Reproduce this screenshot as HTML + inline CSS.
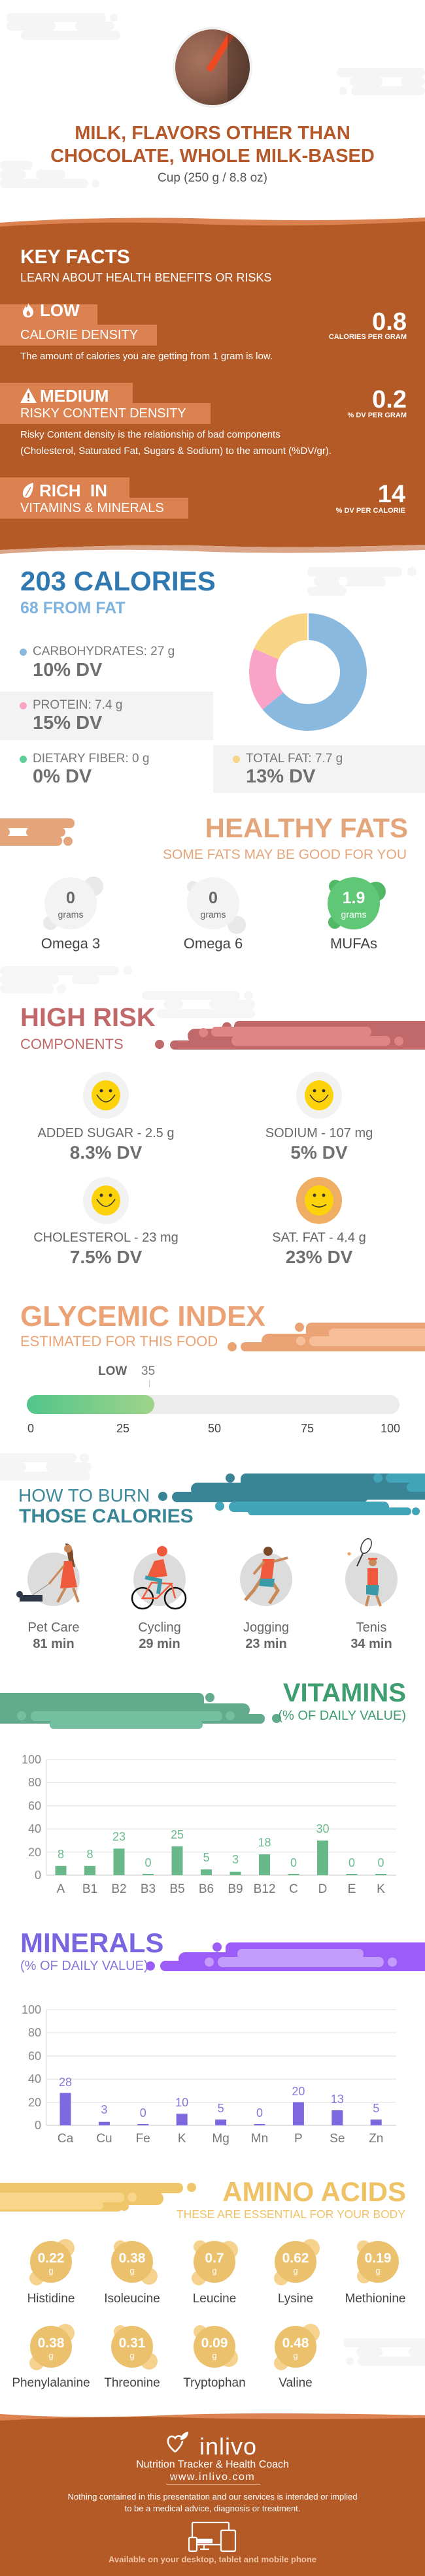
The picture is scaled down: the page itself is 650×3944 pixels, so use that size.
<!DOCTYPE html>
<html><head><meta charset="utf-8">
<style>
*{margin:0;padding:0;box-sizing:border-box}
body{width:650px;height:3944px;background:#fff;font-family:"Liberation Sans",sans-serif;overflow:hidden}
#c{position:relative;width:650px;height:3944px;overflow:hidden}
.t{position:absolute;line-height:0;white-space:nowrap}
.cen{left:0;width:650px;text-align:center}
.b{font-weight:bold}
.a{position:absolute}
svg{position:absolute}
</style></head><body><div id="c">

<!-- header background blobs -->
<svg style="left:0;top:0" width="650" height="330">
<g fill="#f5f5f5">
<rect x="10" y="20" width="152" height="14" rx="7"/><circle cx="174" cy="27" r="6"/>
<rect x="10" y="33" width="75" height="14" rx="7"/><rect x="115" y="33" width="60" height="14" rx="7"/>
<rect x="32" y="47" width="152" height="14" rx="7"/>
<rect x="515" y="104" width="135" height="14" rx="7"/><rect x="535" y="118" width="50" height="14" rx="7"/><rect x="613" y="118" width="37" height="14" rx="7"/>
<rect x="537" y="132" width="113" height="14" rx="7"/><circle cx="525" cy="139" r="6"/>
<rect x="0" y="246" width="50" height="14" rx="7"/><rect x="0" y="260" width="40" height="14" rx="7"/><rect x="55" y="260" width="45" height="14" rx="7"/>
<rect x="0" y="274" width="135" height="14" rx="7"/><circle cx="146" cy="281" r="6"/>
</g>
</svg>
<!-- food image -->
<div class="a" style="left:264px;top:41px;width:122px;height:124px;border-radius:50%;background:#f1f1f1"></div>
<div class="a" style="left:268px;top:45px;width:114px;height:116px;border-radius:50%;overflow:hidden;background:radial-gradient(circle at 35% 40%,#a7735f 0%,#8f5e4c 45%,#6a4536 75%,#4a3128 100%)">
<div class="a" style="left:70px;top:-20px;width:10px;height:90px;background:#ee4a22;transform:rotate(32deg);border-radius:4px"></div>
<div class="a" style="left:80px;top:0;width:40px;height:116px;background:rgba(70,50,40,0.5)"></div>
</div>
<div class="t cen b" style="top:204px;font-size:29px;color:#b5592b">MILK, FLAVORS OTHER THAN</div>
<div class="t cen b" style="top:239px;font-size:29px;color:#b5592b">CHOCOLATE, WHOLE MILK-BASED</div>
<div class="t cen" style="top:273px;font-size:19px;color:#555">Cup (250 g / 8.8 oz)</div>

<!-- key facts brown -->
<svg style="left:0;top:325px" width="650" height="30">
<path d="M0 16 Q160 5 330 10 T650 8 L650 30 L0 30Z" fill="#dc8150"/>
<path d="M0 22 Q150 12 300 18 T650 14 L650 30 L0 30Z" fill="#b35a27"/>
</svg>
<div class="a" style="left:0;top:354px;width:650px;height:475px;background:#b35a27"></div>
<svg style="left:0;top:828px" width="650" height="24">
<path d="M0 14 Q200 4 330 8 T650 6 L650 0 L0 0Z" fill="#b35a27"/>
<path d="M0 14 Q200 4 330 8 T650 6 L650 14 Q450 22 300 16 T0 20Z" fill="#dba58a"/>
</svg>
<div class="t b" style="left:31px;top:394px;font-size:30px;color:#fff">KEY FACTS</div>
<div class="t" style="left:31px;top:425px;font-size:18px;color:#fff">LEARN ABOUT HEALTH BENEFITS OR RISKS</div>

<div class="a" style="left:0;top:466px;width:149px;height:32px;background:#dc8150"></div>
<div class="a" style="left:0;top:497px;width:240px;height:32px;background:#dc8150"></div>
<svg style="left:31px;top:463px" width="24" height="24"><path d="M12 1 C14 6 20 9 20 15 C20 20 16 23 12 23 C7 23 4 20 4 15 C4 11 7 9 8 5 C9 9 11 9 12 1Z M12 12 C10 15 9 17 10 19 C11 21 14 21 15 19 C16 17 14 15 12 12Z" fill="#fff" fill-rule="evenodd"/></svg>
<div class="t b" style="left:61px;top:475px;font-size:26px;color:#fff">LOW</div>
<div class="t" style="left:31px;top:513px;font-size:20px;color:#fff">CALORIE DENSITY</div>
<div class="t b" style="right:28px;top:493px;font-size:38px;color:#fff">0.8</div>
<div class="t b" style="right:28px;top:516px;font-size:11px;color:#fff">CALORIES PER GRAM</div>
<div class="t" style="left:31px;top:546px;font-size:15px;color:#fff">The amount of calories you are getting from 1 gram is low.</div>

<div class="a" style="left:0;top:586px;width:203px;height:32px;background:#dc8150"></div>
<div class="a" style="left:0;top:617px;width:322px;height:32px;background:#dc8150"></div>
<svg style="left:30px;top:593px" width="27" height="25"><path d="M13.5 1 L26 24 L1 24Z" fill="#fff"/><rect x="12.3" y="9" width="2.4" height="8" fill="#b35a27"/><rect x="12.3" y="19" width="2.4" height="2.4" fill="#b35a27"/></svg>
<div class="t b" style="left:61px;top:606px;font-size:26px;color:#fff">MEDIUM</div>
<div class="t" style="left:31px;top:633px;font-size:20px;color:#fff">RISKY CONTENT DENSITY</div>
<div class="t b" style="right:28px;top:612px;font-size:38px;color:#fff">0.2</div>
<div class="t b" style="right:28px;top:636px;font-size:11px;color:#fff">% DV PER GRAM</div>
<div class="t" style="left:31px;top:666px;font-size:15px;color:#fff">Risky Content density is the relationship of bad components</div>
<div class="t" style="left:31px;top:691px;font-size:15px;color:#fff">(Cholesterol, Saturated Fat, Sugars &amp; Sodium) to the amount (%DV/gr).</div>

<div class="a" style="left:0;top:731px;width:198px;height:32px;background:#dc8150"></div>
<div class="a" style="left:0;top:762px;width:288px;height:32px;background:#dc8150"></div>
<svg style="left:33px;top:738px" width="20" height="26"><path d="M18 1 C6 4 1 12 2 20 C3 24 8 25 11 23 C16 19 18 10 18 1Z" fill="#fff"/><path d="M6 22 L14 8" stroke="#dc8150" stroke-width="1.5"/></svg>
<div class="t b" style="left:60px;top:751px;font-size:26px;color:#fff">RICH&nbsp; IN</div>
<div class="t" style="left:31px;top:778px;font-size:20px;color:#fff">VITAMINS &amp; MINERALS</div>
<div class="t b" style="right:30px;top:757px;font-size:38px;color:#fff">14</div>
<div class="t b" style="right:30px;top:782px;font-size:11px;color:#fff">% DV PER CALORIE</div>

<!-- calories -->
<svg style="left:470px;top:865px" width="180" height="50"><g fill="#f5f5f5"><rect x="0" y="3" width="145" height="15" rx="7"/><circle cx="160" cy="10" r="7"/><rect x="10" y="18" width="110" height="15" rx="7"/><rect x="0" y="33" width="60" height="14" rx="7"/><circle cx="55" cy="25" r="7" fill="#fff"/></g></svg>
<div class="t b" style="left:31px;top:890px;font-size:42px;color:#2f78b0">203 CALORIES</div>
<div class="t b" style="left:31px;top:931px;font-size:25px;color:#7fb3df">68 FROM FAT</div>

<svg style="left:381px;top:939px" width="180" height="180">
<g transform="rotate(-90 90 90)" fill="none" stroke-width="41">
<circle cx="90" cy="90" r="69.5" stroke="#8ab9e0" stroke-dasharray="279.5 500"/>
<circle cx="90" cy="90" r="69.5" stroke="#f9a3c7" stroke-dasharray="76.4 500" stroke-dashoffset="-279.5"/>
<circle cx="90" cy="90" r="69.5" stroke="#f8d486" stroke-dasharray="80.8 500" stroke-dashoffset="-355.9"/>
</g>
<line x1="90" y1="0" x2="90" y2="41" stroke="#fff" stroke-width="2"/>
</svg>

<div class="a" style="left:30px;top:993px;width:11px;height:11px;border-radius:50%;background:#8ab9e0"></div>
<div class="t" style="left:50px;top:998px;font-size:19px;color:#777">CARBOHYDRATES: 27 g</div>
<div class="t b" style="left:50px;top:1026px;font-size:29px;color:#6f6f6f">10% DV</div>

<div class="a" style="left:0;top:1059px;width:326px;height:74px;background:#f3f3f3"></div>
<div class="a" style="left:30px;top:1075px;width:11px;height:11px;border-radius:50%;background:#f9a3c7"></div>
<div class="t" style="left:50px;top:1080px;font-size:19px;color:#777">PROTEIN: 7.4 g</div>
<div class="t b" style="left:50px;top:1107px;font-size:29px;color:#6f6f6f">15% DV</div>

<div class="a" style="left:30px;top:1157px;width:11px;height:11px;border-radius:50%;background:#5fcf9a"></div>
<div class="t" style="left:50px;top:1162px;font-size:19px;color:#777">DIETARY FIBER: 0 g</div>
<div class="t b" style="left:50px;top:1189px;font-size:29px;color:#6f6f6f">0% DV</div>

<div class="a" style="left:326px;top:1141px;width:324px;height:73px;background:#f3f3f3"></div>
<div class="a" style="left:356px;top:1157px;width:11px;height:11px;border-radius:50%;background:#f8d486"></div>
<div class="t" style="left:376px;top:1162px;font-size:19px;color:#777">TOTAL FAT: 7.7 g</div>
<div class="t b" style="left:376px;top:1189px;font-size:29px;color:#6f6f6f">13% DV</div>

<!-- healthy fats -->
<svg style="left:0;top:1250px" width="120" height="50"><g fill="#e5a57a"><rect x="-10" y="3" width="124" height="15" rx="7"/><rect x="-10" y="17" width="25" height="14" rx="7"/><rect x="40" y="17" width="60" height="14" rx="7"/><rect x="-10" y="30" width="105" height="15" rx="7"/><circle cx="104" cy="38" r="7"/></g></svg>
<div class="t b" style="right:26px;top:1268px;font-size:42px;color:#e5a57a">HEALTHY FATS</div>
<div class="t" style="right:28px;top:1309px;font-size:21px;color:#e5a57a">SOME FATS MAY BE GOOD FOR YOU</div>

<svg style="left:0;top:1330px" width="650" height="110">
<g fill="#e9e9e9"><circle cx="143" cy="27" r="15"/><circle cx="77" cy="83" r="11"/><circle cx="295" cy="28" r="9"/><circle cx="362" cy="86" r="14"/></g>
<g fill="#f3f3f3"><circle cx="108" cy="53" r="40"/><circle cx="326" cy="53" r="40"/></g>
<g fill="#52b866"><circle cx="513" cy="27" r="10"/><circle cx="575" cy="35" r="15"/><circle cx="512" cy="82" r="10"/></g>
<circle cx="541" cy="53" r="40" fill="#5fc776"/>
</svg>
<div class="t b" style="left:68px;width:80px;text-align:center;top:1375px;font-size:25px;color:#666">0</div>
<div class="t" style="left:68px;width:80px;text-align:center;top:1400px;font-size:14px;color:#666">grams</div>
<div class="t b" style="left:286px;width:80px;text-align:center;top:1375px;font-size:25px;color:#666">0</div>
<div class="t" style="left:286px;width:80px;text-align:center;top:1400px;font-size:14px;color:#666">grams</div>
<div class="t b" style="left:501px;width:80px;text-align:center;top:1375px;font-size:25px;color:#fff">1.9</div>
<div class="t" style="left:501px;width:80px;text-align:center;top:1400px;font-size:14px;color:#fff">grams</div>
<div class="t" style="left:38px;width:140px;text-align:center;top:1445px;font-size:22px;color:#444">Omega 3</div>
<div class="t" style="left:256px;width:140px;text-align:center;top:1445px;font-size:22px;color:#444">Omega 6</div>
<div class="t" style="left:471px;width:140px;text-align:center;top:1445px;font-size:22px;color:#444">MUFAs</div>

<!-- high risk -->
<svg style="left:0;top:1475px" width="400" height="90"><g fill="#f6f6f6"><rect x="0" y="4" width="182" height="14" rx="7"/><circle cx="195" cy="11" r="7"/><rect x="0" y="18" width="90" height="14" rx="7"/><rect x="110" y="18" width="42" height="14" rx="7"/><rect x="0" y="32" width="82" height="14" rx="7"/><circle cx="94" cy="39" r="7"/><rect x="217" y="42" width="150" height="14" rx="7"/><circle cx="380" cy="49" r="7"/><rect x="250" y="56" width="30" height="14" rx="7"/><rect x="320" y="56" width="70" height="14" rx="7"/><rect x="240" y="70" width="150" height="14" rx="7"/></g></svg>
<svg style="left:230px;top:1560px" width="420" height="50">
<g fill="#c0686a"><rect x="128" y="3" width="300" height="44" rx="8"/><circle cx="117" cy="12" r="7"/><rect x="57" y="15" width="120" height="22" rx="11"/><rect x="30" y="33" width="200" height="14" rx="7"/><circle cx="14" cy="39" r="7"/></g>
<g fill="#e08585"><rect x="93" y="12" width="245" height="15" rx="7"/><rect x="124" y="26" width="243" height="15" rx="7"/><circle cx="81" cy="21" r="7"/><circle cx="380" cy="34" r="7"/></g>
</svg>
<div class="t b" style="left:31px;top:1558px;font-size:40px;color:#c0686a">HIGH RISK</div>
<div class="t" style="left:31px;top:1599px;font-size:22px;color:#c0686a">COMPONENTS</div>

<svg style="left:0;top:1640px" width="650" height="240">
<g fill="#f2f2f2"><ellipse cx="162" cy="37" rx="35" ry="36"/><ellipse cx="488" cy="37" rx="35" ry="36"/><ellipse cx="162" cy="198" rx="35" ry="36"/></g>
<ellipse cx="488" cy="198" rx="35" ry="36" fill="#f0ad64"/>
<g fill="#fcd20a"><ellipse cx="162" cy="37" rx="22" ry="23"/><ellipse cx="488" cy="37" rx="22" ry="23"/><ellipse cx="162" cy="198" rx="22" ry="23"/><ellipse cx="488" cy="198" rx="22" ry="23"/></g>
<g fill="#333"><circle cx="155" cy="30" r="2.5"/><circle cx="169" cy="30" r="2.5"/><circle cx="481" cy="30" r="2.5"/><circle cx="495" cy="30" r="2.5"/><circle cx="155" cy="190" r="2.5"/><circle cx="169" cy="190" r="2.5"/><circle cx="481" cy="190" r="2.5"/><circle cx="495" cy="190" r="2.5"/></g>
<g fill="none" stroke="#333" stroke-width="1.6"><path d="M148 36 Q162 58 176 36"/><path d="M474 36 Q488 58 502 36"/><path d="M148 196 Q162 218 176 196"/><path d="M477 204 Q488 212 499 204"/></g>
</svg>
<div class="t" style="left:12px;width:300px;text-align:center;top:1735px;font-size:20px;color:#666">ADDED SUGAR - 2.5 g</div>
<div class="t b" style="left:12px;width:300px;text-align:center;top:1765px;font-size:28px;color:#6f6f6f">8.3% DV</div>
<div class="t" style="left:338px;width:300px;text-align:center;top:1735px;font-size:20px;color:#666">SODIUM - 107 mg</div>
<div class="t b" style="left:338px;width:300px;text-align:center;top:1765px;font-size:28px;color:#6f6f6f">5% DV</div>
<div class="t" style="left:12px;width:300px;text-align:center;top:1895px;font-size:20px;color:#666">CHOLESTEROL - 23 mg</div>
<div class="t b" style="left:12px;width:300px;text-align:center;top:1925px;font-size:28px;color:#6f6f6f">7.5% DV</div>
<div class="t" style="left:338px;width:300px;text-align:center;top:1895px;font-size:20px;color:#666">SAT. FAT - 4.4 g</div>
<div class="t b" style="left:338px;width:300px;text-align:center;top:1925px;font-size:28px;color:#6f6f6f">23% DV</div>

<!-- glycemic -->
<svg style="left:340px;top:2022px" width="310" height="50">
<g fill="#eba375"><rect x="128" y="3" width="200" height="44" rx="8"/><circle cx="118" cy="10" r="7"/><rect x="60" y="20" width="100" height="22" rx="11"/><rect x="28" y="33" width="200" height="14" rx="7"/><circle cx="15" cy="40" r="7"/></g>
<g fill="#f6bf9a"><rect x="163" y="12" width="180" height="15" rx="7"/><rect x="133" y="24" width="200" height="15" rx="7"/><circle cx="120" cy="31" r="7"/></g>
</svg>
<div class="t b" style="left:31px;top:2016px;font-size:44px;color:#eba375">GLYCEMIC INDEX</div>
<div class="t" style="left:31px;top:2054px;font-size:22px;color:#eba375">ESTIMATED FOR THIS FOOD</div>
<div class="t b" style="left:150px;top:2100px;font-size:19px;color:#666">LOW</div>
<div class="t" style="left:216px;top:2100px;font-size:19px;color:#777">35</div>
<div class="a" style="left:228px;top:2113px;width:1px;height:11px;background:#ccc"></div>
<div class="a" style="left:41px;top:2136px;width:570px;height:29px;border-radius:15px;background:#ececec"></div>
<div class="a" style="left:41px;top:2136px;width:195px;height:29px;border-radius:15px;background:linear-gradient(90deg,#52c58a,#9fd48a)"></div>
<div class="t" style="left:27px;width:40px;text-align:center;top:2187px;font-size:18px;color:#444">0</div>
<div class="t" style="left:168px;width:40px;text-align:center;top:2187px;font-size:18px;color:#444">25</div>
<div class="t" style="left:308px;width:40px;text-align:center;top:2187px;font-size:18px;color:#444">50</div>
<div class="t" style="left:450px;width:40px;text-align:center;top:2187px;font-size:18px;color:#444">75</div>
<div class="t" style="left:577px;width:40px;text-align:center;top:2187px;font-size:18px;color:#444">100</div>

<!-- burn -->
<svg style="left:0;top:2222px" width="140" height="50"><g fill="#f5f5f5"><rect x="-10" y="3" width="127" height="14" rx="7"/><circle cx="129" cy="10" r="7"/><rect x="-10" y="17" width="50" height="14" rx="7"/><rect x="70" y="17" width="70" height="14" rx="7"/><rect x="-10" y="31" width="148" height="14" rx="7"/></g></svg>
<svg style="left:235px;top:2254px" width="415" height="66">
<g fill="#3a8595"><rect x="133" y="2" width="290" height="40" rx="8"/><circle cx="117" cy="9" r="7"/><rect x="57" y="16" width="200" height="20" rx="10"/><rect x="28" y="30" width="300" height="16" rx="8"/><circle cx="14" cy="37" r="7"/></g>
<g fill="#42a4b8"><circle cx="343" cy="9" r="7"/><rect x="355" y="2" width="80" height="14" rx="7"/><rect x="387" y="16" width="40" height="14" rx="7"/><rect x="115" y="45" width="245" height="16" rx="8"/><circle cx="101" cy="52" r="7"/><rect x="144" y="54" width="250" height="12" rx="6"/><circle cx="401" cy="60" r="6"/></g>
</svg>
<div class="t" style="left:28px;top:2290px;font-size:28px;color:#3e8a9a">HOW TO BURN</div>
<div class="t b" style="left:29px;top:2322px;font-size:30px;color:#3a8595">THOSE CALORIES</div>

<svg style="left:0;top:2355px" width="650" height="120">
<g fill="#dcdcdc"><ellipse cx="82" cy="63" rx="40" ry="41"/><ellipse cx="244" cy="63" rx="40" ry="41"/><ellipse cx="407" cy="63" rx="40" ry="41"/><ellipse cx="568" cy="63" rx="40" ry="41"/></g>
<!-- pet care -->
<path d="M100 8 Q112 8 112 30 L115 45 L106 40Z" fill="#7a4a2a"/>
<circle cx="104" cy="16" r="6" fill="#c98a5a"/>
<path d="M98 35 L110 35 L118 75 L92 77Z" fill="#ef5a3c"/>
<path d="M100 76 L88 98 M112 76 L120 98" stroke="#c98a5a" stroke-width="4"/>
<path d="M98 42 L75 70" stroke="#c98a5a" stroke-width="3"/>
<path d="M75 70 L45 90" stroke="#888" stroke-width="1"/>
<path d="M30 87 L65 87 L65 97 L30 97Z" fill="#2e3848"/><circle cx="30" cy="86" r="5" fill="#2e3848"/>
<!-- cycling -->
<circle cx="218" cy="92" r="16" fill="none" stroke="#111" stroke-width="2.5"/><circle cx="268" cy="92" r="16" fill="none" stroke="#111" stroke-width="2.5"/>
<path d="M218 92 L240 92 L262 70 L232 68Z M262 70 L268 92" fill="none" stroke="#ef5a3c" stroke-width="2.5"/>
<circle cx="248" cy="20" r="8" fill="#ef5a3c"/>
<path d="M236 35 L250 32 L256 58 L224 62Z" fill="#ef5a3c"/>
<path d="M222 60 L245 65 L242 85" stroke="#3a9aa8" stroke-width="6" fill="none"/>
<!-- jogging -->
<circle cx="410" cy="20" r="7" fill="#7a4a2a"/>
<path d="M402 32 L420 32 L416 65 L398 62Z" fill="#ef5a3c"/>
<path d="M400 62 L388 80 L375 95 M414 64 L425 80 L412 100" stroke="#c98a5a" stroke-width="5" fill="none"/>
<path d="M398 62 L420 62 L418 75 L396 73Z" fill="#3a9aa8"/>
<path d="M404 36 L388 55 M418 36 L440 30" stroke="#c98a5a" stroke-width="4"/>
<!-- tennis -->
<ellipse cx="560" cy="12" rx="7" ry="12" fill="none" stroke="#333" stroke-width="1.5" transform="rotate(25 560 12)"/>
<path d="M555 23 L546 43" stroke="#333" stroke-width="2"/>
<circle cx="534" cy="24" r="2.5" fill="#f0a060"/>
<circle cx="570" cy="37" r="6" fill="#c98a5a"/><rect x="563" y="30" width="14" height="3" fill="#ef5a3c"/>
<path d="M562 46 L578 46 L578 72 L562 72Z" fill="#ef5a3c"/>
<path d="M560 72 L580 72 L578 88 L560 86Z" fill="#3a9aa8"/>
<path d="M564 88 L560 104 M576 88 L582 104" stroke="#c98a5a" stroke-width="4"/>
</svg>
<div class="t" style="left:22px;width:120px;text-align:center;top:2492px;font-size:20px;color:#666">Pet Care</div>
<div class="t b" style="left:22px;width:120px;text-align:center;top:2517px;font-size:20px;color:#666">81 min</div>
<div class="t" style="left:184px;width:120px;text-align:center;top:2492px;font-size:20px;color:#666">Cycling</div>
<div class="t b" style="left:184px;width:120px;text-align:center;top:2517px;font-size:20px;color:#666">29 min</div>
<div class="t" style="left:347px;width:120px;text-align:center;top:2492px;font-size:20px;color:#666">Jogging</div>
<div class="t b" style="left:347px;width:120px;text-align:center;top:2517px;font-size:20px;color:#666">23 min</div>
<div class="t" style="left:508px;width:120px;text-align:center;top:2492px;font-size:20px;color:#666">Tenis</div>
<div class="t b" style="left:508px;width:120px;text-align:center;top:2517px;font-size:20px;color:#666">34 min</div>

<!-- vitamins -->
<svg style="left:0;top:2590px" width="430" height="60">
<g fill="#62ab8c"><rect x="-10" y="2" width="322" height="40" rx="8"/><circle cx="321" cy="9" r="7"/><rect x="-10" y="18" width="392" height="20" rx="10"/><rect x="-10" y="34" width="415" height="15" rx="7"/><circle cx="423" cy="41" r="7"/></g>
<g fill="#74bfa0"><rect x="47" y="30" width="293" height="15" rx="7"/><circle cx="33" cy="37" r="7"/><circle cx="352" cy="37" r="7"/><rect x="76" y="44" width="234" height="13" rx="6"/></g>
</svg>
<div class="t b" style="right:29px;top:2592px;font-size:40px;color:#3e9e70">VITAMINS</div>
<div class="t" style="right:29px;top:2627px;font-size:20px;color:#3e9e70">(% OF DAILY VALUE)</div>

<svg style="left:0;top:2680px" width="650" height="230" font-family="Liberation Sans, sans-serif">
<g stroke="#e6e6e6" stroke-width="1.3"><line x1="71" y1="14" x2="606" y2="14"/><line x1="71" y1="49.4" x2="606" y2="49.4"/><line x1="71" y1="84.8" x2="606" y2="84.8"/><line x1="71" y1="120.2" x2="606" y2="120.2"/><line x1="71" y1="155.6" x2="606" y2="155.6"/></g>
<line x1="71" y1="191" x2="606" y2="191" stroke="#d8d8d8" stroke-width="1.5"/>
<line x1="71" y1="14" x2="71" y2="191" stroke="#e0e0e0" stroke-width="1.3"/>
<g fill="#888" font-size="18" text-anchor="end"><text x="63" y="20">100</text><text x="63" y="55">80</text><text x="63" y="91">60</text><text x="63" y="126">40</text><text x="63" y="162">20</text><text x="63" y="197">0</text></g>
<g fill="#68b88a">
<rect x="84.5" y="176.8" width="17" height="14.2"/><rect x="129" y="176.8" width="17" height="14.2"/><rect x="173.5" y="150.3" width="17" height="40.7"/><rect x="218" y="189" width="17" height="2"/><rect x="262.5" y="146.8" width="17" height="44.2"/><rect x="307" y="182.2" width="17" height="8.8"/><rect x="351.5" y="185.7" width="17" height="5.3"/><rect x="396" y="159.1" width="17" height="31.9"/><rect x="440.5" y="189" width="17" height="2"/><rect x="485" y="137.9" width="17" height="53.1"/><rect x="529.5" y="189" width="17" height="2"/><rect x="574" y="189" width="17" height="2"/>
</g>
<g fill="#6dba8e" font-size="18" text-anchor="middle">
<text x="93" y="165">8</text><text x="137.5" y="165">8</text><text x="182" y="138">23</text><text x="226.5" y="178">0</text><text x="271" y="135">25</text><text x="315.5" y="170">5</text><text x="360" y="173">3</text><text x="404.5" y="147">18</text><text x="449" y="178">0</text><text x="493.5" y="126">30</text><text x="538" y="178">0</text><text x="582.5" y="178">0</text>
</g>
<g fill="#777" font-size="19" text-anchor="middle">
<text x="93" y="218">A</text><text x="137.5" y="218">B1</text><text x="182" y="218">B2</text><text x="226.5" y="218">B3</text><text x="271" y="218">B5</text><text x="315.5" y="218">B6</text><text x="360" y="218">B9</text><text x="404.5" y="218">B12</text><text x="449" y="218">C</text><text x="493.5" y="218">D</text><text x="538" y="218">E</text><text x="582.5" y="218">K</text>
</g>
</svg>

<!-- minerals -->
<svg style="left:220px;top:2972px" width="430" height="50">
<g fill="#9b5cf7"><rect x="125" y="2" width="320" height="44" rx="8"/><circle cx="112" cy="9" r="7"/><rect x="53" y="17" width="200" height="20" rx="10"/><rect x="25" y="30" width="350" height="16" rx="8"/><circle cx="10" cy="38" r="7"/></g>
<g fill="#c39bfa"><rect x="143" y="12" width="193" height="15" rx="7"/><rect x="113" y="24" width="254" height="16" rx="8"/><circle cx="100" cy="32" r="7"/><circle cx="380" cy="32" r="7"/></g>
</svg>
<div class="t b" style="left:31px;top:2975px;font-size:42px;color:#7a64e0">MINERALS</div>
<div class="t" style="left:31px;top:3010px;font-size:20px;color:#8877d9">(% OF DAILY VALUE)</div>

<svg style="left:0;top:3063px" width="650" height="230" font-family="Liberation Sans, sans-serif">
<g stroke="#e6e6e6" stroke-width="1.3"><line x1="71" y1="14" x2="606" y2="14"/><line x1="71" y1="49.4" x2="606" y2="49.4"/><line x1="71" y1="84.8" x2="606" y2="84.8"/><line x1="71" y1="120.2" x2="606" y2="120.2"/><line x1="71" y1="155.6" x2="606" y2="155.6"/></g>
<line x1="71" y1="191" x2="606" y2="191" stroke="#d8d8d8" stroke-width="1.5"/>
<line x1="71" y1="14" x2="71" y2="191" stroke="#e0e0e0" stroke-width="1.3"/>
<g fill="#888" font-size="18" text-anchor="end"><text x="63" y="20">100</text><text x="63" y="55">80</text><text x="63" y="91">60</text><text x="63" y="126">40</text><text x="63" y="162">20</text><text x="63" y="197">0</text></g>
<g fill="#7d68e0">
<rect x="91.5" y="141.4" width="17" height="49.6"/><rect x="150.9" y="185.7" width="17" height="5.3"/><rect x="210.3" y="189" width="17" height="2"/><rect x="269.7" y="173.3" width="17" height="17.7"/><rect x="329.1" y="182.2" width="17" height="8.8"/><rect x="388.5" y="189" width="17" height="2"/><rect x="447.9" y="155.6" width="17" height="35.4"/><rect x="507.3" y="168" width="17" height="23"/><rect x="566.7" y="182.2" width="17" height="8.8"/>
</g>
<g fill="#8877d9" font-size="18" text-anchor="middle">
<text x="100" y="131">28</text><text x="159.4" y="173">3</text><text x="218.8" y="178">0</text><text x="278.2" y="162">10</text><text x="337.6" y="171">5</text><text x="397" y="178">0</text><text x="456.4" y="145">20</text><text x="515.8" y="157">13</text><text x="575.2" y="171">5</text>
</g>
<g fill="#777" font-size="19" text-anchor="middle">
<text x="100" y="217">Ca</text><text x="159.4" y="217">Cu</text><text x="218.8" y="217">Fe</text><text x="278.2" y="217">K</text><text x="337.6" y="217">Mg</text><text x="397" y="217">Mn</text><text x="456.4" y="217">P</text><text x="515.8" y="217">Se</text><text x="575.2" y="217">Zn</text>
</g>
</svg>

<!-- amino -->
<svg style="left:0;top:3340px" width="310" height="50">
<g fill="#f0c66b"><rect x="-10" y="2" width="290" height="16" rx="8"/><circle cx="293" cy="9" r="7"/><rect x="-10" y="16" width="260" height="20" rx="10"/><rect x="-10" y="30" width="198" height="16" rx="8"/><circle cx="190" cy="38" r="7"/></g>
<g fill="#f9d58a"><rect x="-10" y="17" width="200" height="15" rx="7"/><circle cx="202" cy="24" r="7"/><rect x="-10" y="31" width="168" height="12" rx="6"/></g>
</svg>
<div class="t b" style="right:29px;top:3356px;font-size:42px;color:#eec265">AMINO ACIDS</div>
<div class="t" style="right:30px;top:3390px;font-size:17.5px;color:#eec265">THESE ARE ESSENTIAL FOR YOUR BODY</div>

<svg style="left:0;top:3420px" width="650" height="210">
<g fill="#f5d38e">
<circle cx="100" cy="22" r="14"/><circle cx="56" cy="68" r="11"/><circle cx="184" cy="20" r="10"/><circle cx="228" cy="65" r="13"/><circle cx="306" cy="20" r="10"/><circle cx="350" cy="25" r="14"/><circle cx="304" cy="68" r="11"/><circle cx="475" cy="22" r="14"/><circle cx="430" cy="68" r="11"/><circle cx="556" cy="20" r="10"/><circle cx="557" cy="65" r="11"/>
<circle cx="100" cy="152" r="14"/><circle cx="56" cy="198" r="11"/><circle cx="184" cy="150" r="10"/><circle cx="228" cy="195" r="13"/><circle cx="306" cy="150" r="10"/><circle cx="350" cy="190" r="14"/><circle cx="475" cy="152" r="14"/><circle cx="430" cy="198" r="11"/>
</g>
<g fill="#ebc16d"><circle cx="78" cy="43" r="32"/><circle cx="202" cy="43" r="32"/><circle cx="328" cy="43" r="32"/><circle cx="452" cy="43" r="32"/><circle cx="578" cy="43" r="32"/><circle cx="78" cy="173" r="32"/><circle cx="202" cy="173" r="32"/><circle cx="328" cy="173" r="32"/><circle cx="452" cy="173" r="32"/></g>
</svg>
<div class="t b" style="left:38px;width:80px;text-align:center;top:3458px;font-size:21px;color:#fff">0.22</div>
<div class="t b" style="left:162px;width:80px;text-align:center;top:3458px;font-size:21px;color:#fff">0.38</div>
<div class="t b" style="left:288px;width:80px;text-align:center;top:3458px;font-size:21px;color:#fff">0.7</div>
<div class="t b" style="left:412px;width:80px;text-align:center;top:3458px;font-size:21px;color:#fff">0.62</div>
<div class="t b" style="left:538px;width:80px;text-align:center;top:3458px;font-size:21px;color:#fff">0.19</div>
<div class="t" style="left:38px;width:80px;text-align:center;top:3477px;font-size:13px;color:#fff">g</div>
<div class="t" style="left:162px;width:80px;text-align:center;top:3477px;font-size:13px;color:#fff">g</div>
<div class="t" style="left:288px;width:80px;text-align:center;top:3477px;font-size:13px;color:#fff">g</div>
<div class="t" style="left:412px;width:80px;text-align:center;top:3477px;font-size:13px;color:#fff">g</div>
<div class="t" style="left:538px;width:80px;text-align:center;top:3477px;font-size:13px;color:#fff">g</div>
<div class="t" style="left:18px;width:120px;text-align:center;top:3520px;font-size:19px;color:#444">Histidine</div>
<div class="t" style="left:142px;width:120px;text-align:center;top:3520px;font-size:19px;color:#444">Isoleucine</div>
<div class="t" style="left:268px;width:120px;text-align:center;top:3520px;font-size:19px;color:#444">Leucine</div>
<div class="t" style="left:392px;width:120px;text-align:center;top:3520px;font-size:19px;color:#444">Lysine</div>
<div class="t" style="left:514px;width:120px;text-align:center;top:3520px;font-size:19px;color:#444">Methionine</div>
<div class="t b" style="left:38px;width:80px;text-align:center;top:3588px;font-size:21px;color:#fff">0.38</div>
<div class="t b" style="left:162px;width:80px;text-align:center;top:3588px;font-size:21px;color:#fff">0.31</div>
<div class="t b" style="left:288px;width:80px;text-align:center;top:3588px;font-size:21px;color:#fff">0.09</div>
<div class="t b" style="left:412px;width:80px;text-align:center;top:3588px;font-size:21px;color:#fff">0.48</div>
<div class="t" style="left:38px;width:80px;text-align:center;top:3607px;font-size:13px;color:#fff">g</div>
<div class="t" style="left:162px;width:80px;text-align:center;top:3607px;font-size:13px;color:#fff">g</div>
<div class="t" style="left:288px;width:80px;text-align:center;top:3607px;font-size:13px;color:#fff">g</div>
<div class="t" style="left:412px;width:80px;text-align:center;top:3607px;font-size:13px;color:#fff">g</div>
<div class="t" style="left:8px;width:140px;text-align:center;top:3649px;font-size:19px;color:#444">Phenylalanine</div>
<div class="t" style="left:142px;width:120px;text-align:center;top:3649px;font-size:19px;color:#444">Threonine</div>
<div class="t" style="left:268px;width:120px;text-align:center;top:3649px;font-size:19px;color:#444">Tryptophan</div>
<div class="t" style="left:392px;width:120px;text-align:center;top:3649px;font-size:19px;color:#444">Valine</div>
<svg style="left:520px;top:3578px" width="130" height="45"><g fill="#f5f5f5"><rect x="5" y="2" width="130" height="14" rx="7"/><rect x="25" y="16" width="40" height="14" rx="7"/><rect x="105" y="16" width="30" height="14" rx="7"/><rect x="27" y="30" width="110" height="14" rx="7"/><circle cx="15" cy="37" r="6"/></g></svg>

<!-- footer -->
<svg style="left:0;top:3690px" width="650" height="30">
<path d="M0 6 Q120 14 250 8 T650 8 L650 30 L0 30Z" fill="#dc8150"/>
<path d="M0 16 Q160 8 300 12 T650 12 L650 30 L0 30Z" fill="#b35a27"/>
</svg>
<div class="a" style="left:0;top:3715px;width:650px;height:229px;background:#b35a27"></div>
<svg style="left:254px;top:3720px" width="40" height="40"><path d="M14 34 C6 27 2 22 3 16 C4 10 10 8 14 13 C17 8 22 9 24 12" fill="none" stroke="#fff" stroke-width="2.6"/><path d="M14 34 C20 28 25 22 25 17" fill="none" stroke="#fff" stroke-width="2.6"/><path d="M22 16 C22 8 28 4 34 3 C34 10 30 15 22 16Z" fill="#fff"/></svg>
<div class="t" style="left:305px;top:3746px;font-size:36px;color:#fff;letter-spacing:1px">inlivo</div>
<div class="t cen" style="top:3774px;font-size:16px;color:#fff">Nutrition Tracker &amp; Health Coach</div>
<div class="t cen" style="top:3793px;font-size:16px;color:#fff;letter-spacing:1.5px">www.inlivo.com</div>
<div class="a" style="left:254px;top:3803px;width:144px;height:1px;background:#f0c0a0"></div>
<div class="t cen" style="top:3823px;font-size:13px;color:#fff">Nothing contained in this presentation and our services is intended or implied</div>
<div class="t cen" style="top:3841px;font-size:13px;color:#fff">to be a medical advice, diagnosis or treatment.</div>
<svg style="left:288px;top:3860px" width="76" height="48" fill="none" stroke="#fff" stroke-width="2.2">
<rect x="6" y="2" width="56" height="34" rx="2"/><rect x="14" y="28" width="22" height="5" fill="#fff"/><path d="M24 36 L24 42 M18 43 L32 43"/>
<rect x="1" y="25" width="12" height="21" rx="2" fill="#b35a27"/><rect x="50" y="14" width="22" height="32" rx="2" fill="#b35a27"/>
</svg>
<div class="t cen b" style="top:3919px;font-size:13px;color:#f3c2a2">Available on your desktop, tablet and mobile phone</div>

</div></body></html>
